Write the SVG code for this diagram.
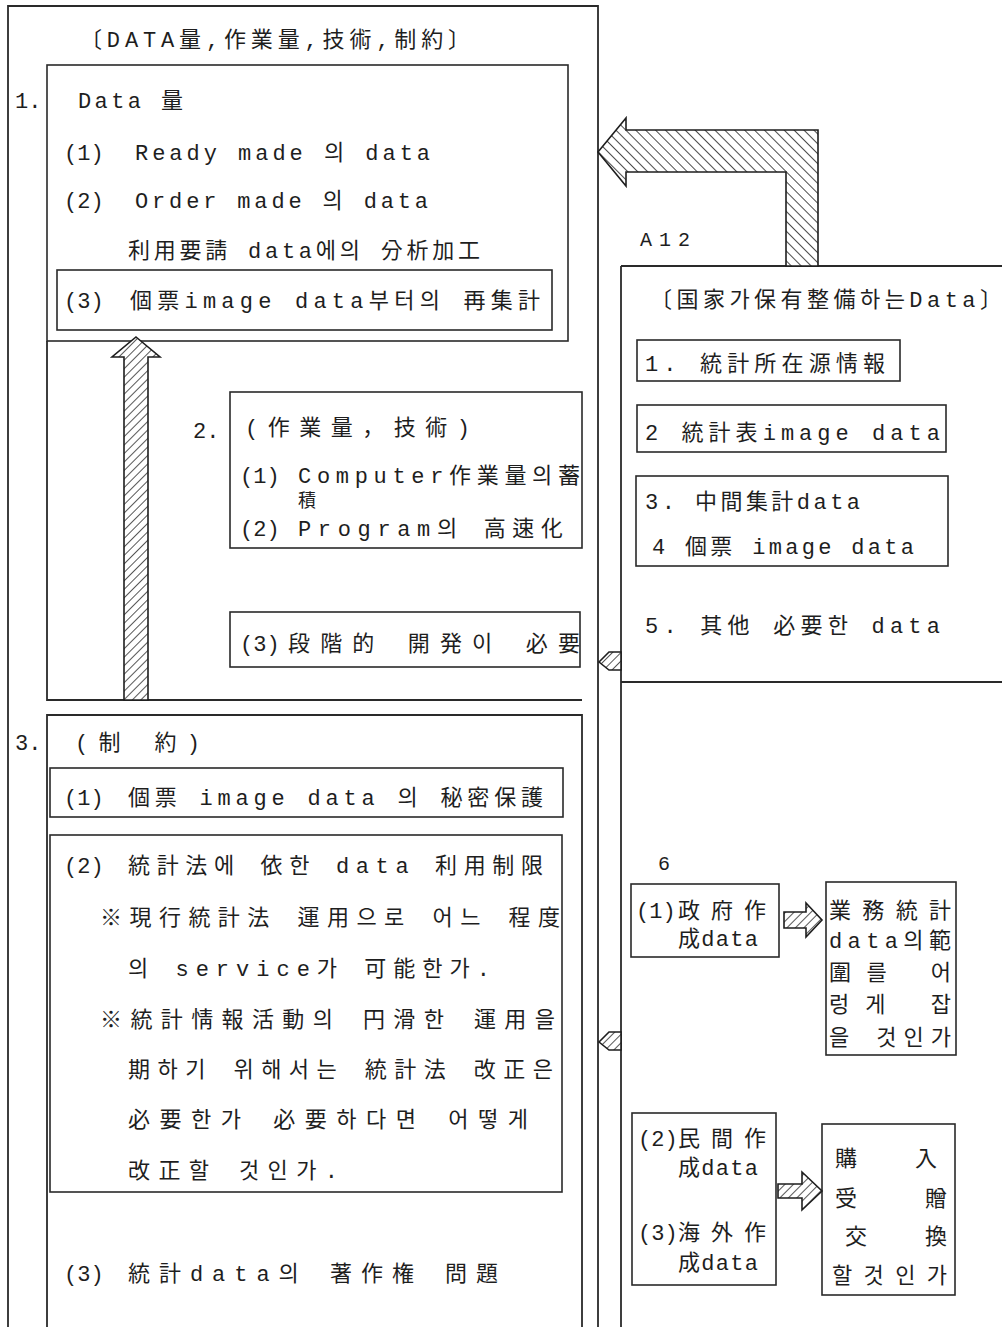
<svg xmlns="http://www.w3.org/2000/svg" width="1002" height="1327" viewBox="0 0 1002 1327">
<style>
.bx{fill:none;stroke:#2a2a2a;stroke-width:1.6}
.ln{fill:none;stroke:#2a2a2a;stroke-width:1.8}
.t{font-family:"Liberation Mono","Noto Sans CJK KR",monospace;font-size:22px;fill:#1e1e1e}
.s{font-family:"Liberation Mono","Noto Sans CJK KR",monospace;font-size:18px;fill:#1e1e1e}
.ar{stroke:#1e1e1e;stroke-width:1.6}
</style>
<defs>
<pattern id="hA" width="6" height="6" patternUnits="userSpaceOnUse" patternTransform="rotate(45)">
<rect width="6" height="6" fill="#fff"/><line x1="0" y1="0" x2="0" y2="6" stroke="#1e1e1e" stroke-width="1.5"/>
</pattern>
<pattern id="hB" width="7" height="7" patternUnits="userSpaceOnUse" patternTransform="rotate(-45)">
<rect width="7" height="7" fill="#fff"/><line x1="0" y1="0" x2="0" y2="7" stroke="#1e1e1e" stroke-width="1.6"/>
</pattern>
</defs>
<rect width="1002" height="1327" fill="#fff"/>

<g id="frame">
<path class="ln" d="M8 1327V6H598V1327"/>
<path class="ln" d="M621 266V1327"/>
</g>

<g id="title">
<text class="t" x="80" y="47" textLength="390" lengthAdjust="spacing">〔DATA量,作業量,技術,制約〕</text>
</g>

<g id="section1">
<rect class="bx" x="47" y="65" width="521" height="276"/>
<text class="t" x="15" y="108">1.</text>
<text class="t" x="78" y="108" textLength="105" lengthAdjust="spacing">Data 量</text>
<text class="t" x="64" y="160">(1)</text>
<text class="t" x="135" y="160" textLength="295" lengthAdjust="spacing">Ready made 의 data</text>
<text class="t" x="64" y="208">(2)</text>
<text class="t" x="135" y="208" textLength="293" lengthAdjust="spacing">Order made 의 data</text>
<text class="t" x="128" y="258" textLength="352" lengthAdjust="spacing">利用要請 data에의 分析加工</text>
</g>
<g id="section1-3">
<rect class="bx" x="57" y="270" width="495" height="60"/>
<text class="t" x="64" y="308">(3)</text>
<text class="t" x="130" y="308" textLength="410" lengthAdjust="spacing">個票image data부터의 再集計</text>
</g>

<g id="section2">
<path class="ln" d="M47 341V700H582"/>
<text class="t" x="193" y="438">2.</text>
</g>
<g id="section2-box">
<rect class="bx" x="230" y="392" width="352" height="156"/>
<text class="t" x="245" y="435" textLength="225" lengthAdjust="spacing">(作業量，技術)</text>
<text class="t" x="240" y="483">(1)</text>
<text class="t" x="298" y="483" textLength="282" lengthAdjust="spacing">Computer作業量의蓄</text>
<text class="s" x="298" y="507">積</text>
<text class="t" x="240" y="536">(2)</text>
<text class="t" x="298" y="536" textLength="265" lengthAdjust="spacing">Program의  高速化</text>
</g>
<g id="section2-3">
<rect class="bx" x="230" y="612" width="350" height="55"/>
<text class="t" x="240" y="651">(3)</text>
<text class="t" x="288" y="651" textLength="292" lengthAdjust="spacing">段階的  開発이  必要</text>
</g>

<g id="section3">
<path class="ln" d="M47 1327V715H582V1327"/>
<text class="t" x="15" y="750">3.</text>
<text class="t" x="75" y="750" textLength="125" lengthAdjust="spacing">(制  約)</text>
<text class="t" x="64" y="1281">(3)</text>
<text class="t" x="128" y="1281" textLength="370" lengthAdjust="spacing">統計data의  著作権  問題</text>
</g>
<g id="section3-1">
<rect class="bx" x="50" y="768" width="513" height="49"/>
<text class="t" x="64" y="805">(1)</text>
<text class="t" x="128" y="805" textLength="415" lengthAdjust="spacing">個票 image data 의  秘密保護</text>
</g>
<g id="section3-2">
<rect class="bx" x="50" y="835" width="512" height="357"/>
<text class="t" x="64" y="873">(2)</text>
<text class="t" x="128" y="873" textLength="415" lengthAdjust="spacing">統計法에  依한  data 利用制限</text>
<text class="t" x="100" y="925" textLength="460" lengthAdjust="spacing">※現行統計法  運用으로 어느 程度</text>
<text class="t" x="128" y="976" textLength="362" lengthAdjust="spacing">의  service가  可能한가.</text>
<text class="t" x="100" y="1027" textLength="455" lengthAdjust="spacing">※統計情報活動의  円滑한  運用을</text>
<text class="t" x="128" y="1077" textLength="425" lengthAdjust="spacing">期하기 위해서는 統計法 改正은</text>
<text class="t" x="128" y="1127" textLength="400" lengthAdjust="spacing">必要한가  必要하다면  어떻게</text>
<text class="t" x="128" y="1178" textLength="210" lengthAdjust="spacing">改正할  것인가.</text>
</g>

<g id="national-data">
<path class="ln" d="M621 266H1002M621 682H1002"/>
<text class="t" x="640" y="246" textLength="50" lengthAdjust="spacing" style="font-size:20px">A12</text>
<text class="t" x="650" y="307" textLength="352" lengthAdjust="spacing">〔国家가保有整備하는Data〕</text>
<text class="t" x="645" y="633" textLength="295" lengthAdjust="spacing">5. 其他   必要한  data</text>
</g>
<g id="nd-1">
<rect class="bx" x="637" y="340" width="263" height="41"/>
<text class="t" x="645" y="371" textLength="240" lengthAdjust="spacing">1. 統計所在源情報</text>
</g>
<g id="nd-2">
<rect class="bx" x="637" y="405" width="309" height="47"/>
<text class="t" x="645" y="440" textLength="295" lengthAdjust="spacing">2 統計表image data</text>
</g>
<g id="nd-34">
<rect class="bx" x="636" y="476" width="312" height="90"/>
<text class="t" x="645" y="509" textLength="215" lengthAdjust="spacing">3. 中間集計data</text>
<text class="t" x="652" y="554" textLength="262" lengthAdjust="spacing">4 個票 image data</text>
</g>

<g id="n6">
<text class="t" x="658" y="870" style="font-size:20px">6</text>
</g>
<g id="n6-1">
<rect class="bx" x="631" y="884" width="148" height="73"/>
<text class="t" x="636" y="918">(1)</text>
<text class="t" x="678" y="918" textLength="88" lengthAdjust="spacing">政府作</text>
<text class="t" x="678" y="946" textLength="80" lengthAdjust="spacing">成data</text>
</g>
<g id="n6-1r">
<rect class="bx" x="826" y="882" width="130" height="173"/>
<text class="t" x="829" y="918" textLength="122" lengthAdjust="spacing">業務統計</text>
<text class="t" x="829" y="948" textLength="122" lengthAdjust="spacing">data의範</text>
<text class="t" x="829" y="980" textLength="122" lengthAdjust="spacing">圍를  어</text>
<text class="t" x="829" y="1012" textLength="122" lengthAdjust="spacing">렁게  잡</text>
<text class="t" x="829" y="1045" textLength="122" lengthAdjust="spacing">을 것인가</text>
</g>
<g id="n6-23">
<rect class="bx" x="632" y="1113" width="144" height="172"/>
<text class="t" x="638" y="1146">(2)</text>
<text class="t" x="678" y="1146" textLength="88" lengthAdjust="spacing">民間作</text>
<text class="t" x="678" y="1175" textLength="80" lengthAdjust="spacing">成data</text>
<text class="t" x="638" y="1240">(3)</text>
<text class="t" x="678" y="1240" textLength="88" lengthAdjust="spacing">海外作</text>
<text class="t" x="678" y="1270" textLength="80" lengthAdjust="spacing">成data</text>
</g>
<g id="n6-23r">
<rect class="bx" x="822" y="1124" width="133" height="171"/>
<text class="t" x="835" y="1166">購</text>
<text class="t" x="915" y="1166">入</text>
<text class="t" x="835" y="1206">受</text>
<text class="t" x="925" y="1206">贈</text>
<text class="t" x="845" y="1244">交</text>
<text class="t" x="925" y="1244">換</text>
<text class="t" x="832" y="1283" textLength="115" lengthAdjust="spacing">할것인가</text>
</g>

<g id="connectors">
<polygon class="ar" fill="url(#hB)" points="598,152 626,118 626,130 818,130 818,266 786,266 786,172 626,172 626,186"/>
<polygon class="ar" fill="url(#hA)" points="136,337 160,357 148,357 148,700 124,700 124,357 112,357"/>
<polygon class="ar" fill="url(#hA)" points="599,662 609,652 621,652 621,670 609,670"/>
<polygon class="ar" fill="url(#hA)" points="599,1042 609,1032 621,1032 621,1050 609,1050"/>
<polygon class="ar" fill="url(#hA)" points="784,912 806,912 806,903 822,920 806,937 806,928 784,928"/>
<polygon class="ar" fill="url(#hA)" points="778,1184 802,1184 802,1172 822,1191 802,1210 802,1198 778,1198"/>
</g>
</svg>
